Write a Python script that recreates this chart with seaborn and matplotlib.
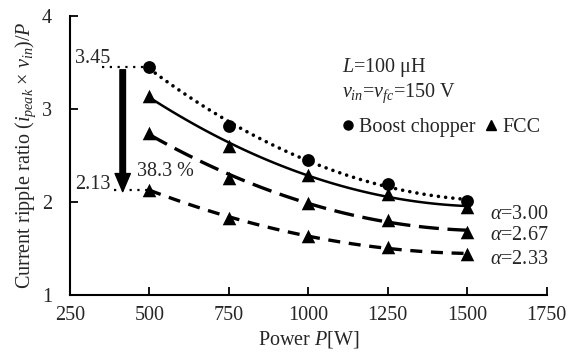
import matplotlib
matplotlib.use("Agg")
import matplotlib.pyplot as plt
import seaborn as sns
import pandas as pd
from matplotlib.lines import Line2D

power = [500, 750, 1000, 1250, 1500]
boost = [3.45, 2.82, 2.45, 2.19, 2.01]
fcc_300 = [3.14, 2.60, 2.29, 2.08, 1.94]
fcc_267 = [2.74, 2.26, 1.99, 1.81, 1.68]
fcc_233 = [2.13, 1.83, 1.63, 1.51, 1.44]
alpha_labels = [r"$\alpha$=3.00", r"$\alpha$=2.67", r"$\alpha$=2.33"]
xticks = [250, 500, 750, 1000, 1250, 1500, 1750]
yticks = [1, 2, 3, 4]

sns.set_theme(style="ticks")
plt.rcParams["font.family"] = ["Liberation Serif", "DejaVu Serif"]
plt.rcParams["mathtext.fontset"] = "custom"
plt.rcParams["mathtext.rm"] = "Liberation Serif"
plt.rcParams["mathtext.it"] = "Liberation Serif:italic"
plt.rcParams["mathtext.bf"] = "Liberation Serif:bold"
FS = 14.5

fig = plt.figure(figsize=(5.78, 3.6), dpi=100)
ax = fig.add_axes([0.121, 0.181, 0.825, 0.775])

series = [
    ("Boost chopper", boost, "o", dict(ls=(0, (0.01, 2.0)), lw=2.6, dash_capstyle="round")),
    ("α=3.00", fcc_300, "^", dict(ls="-", lw=1.8)),
    ("α=2.67", fcc_267, "^", dict(ls=(0, (6.0, 2.6)), lw=2.4)),
    ("α=2.33", fcc_233, "^", dict(ls=(0, (3.6, 2.6)), lw=2.4)),
]
for name, vals, mk, lkw in series:
    df = pd.DataFrame({"P": power, "R": vals})
    sns.regplot(data=df, x="P", y="R", order=2, ci=None, scatter=False,
                truncate=True, color="black", line_kws=lkw, ax=ax)
    sns.scatterplot(data=df, x="P", y="R", marker=mk, s=85 if mk == "o" else 95,
                    color="black", edgecolor="black", linewidth=0, ax=ax, zorder=5)

# reference lines and arrow
ax.plot([352, 500], [boost[0], boost[0]], color="black", lw=1.6, ls=(0, (1, 2.5)))
ax.plot([388, 500], [fcc_233[0], fcc_233[0]], color="black", lw=1.6, ls=(0, (1, 2.5)))
ax.text(378, 3.54, f"{boost[0]:.2f}", ha="right", va="center", fontsize=FS)
ax.text(378, 2.19, f"{fcc_233[0]:.2f}", ha="right", va="center", fontsize=FS)
ax.annotate("", xy=(416, 2.11), xytext=(416, 3.42),
            arrowprops=dict(width=4, headwidth=11, headlength=13, color="black", shrink=0))
ax.text(462, 2.33, "38.3 %", ha="left", va="center", fontsize=FS)

ax.text(1105, 3.44, r"$L$=100 μH", ha="left", va="center", fontsize=FS)
ax.text(1105, 3.17, r"$v_{in}$=$v_{fc}$=150 V", ha="left", va="center", fontsize=FS)

for lab, y in zip(alpha_labels, [1.865, 1.64, 1.38]):
    ax.text(1571, y, lab, ha="left", va="center", fontsize=FS)

handles = [Line2D([], [], ls="none", marker="o", color="black", markersize=6.5),
           Line2D([], [], ls="none", marker="^", color="black", markersize=6.5)]
ax.legend(handles, ["Boost chopper", "FCC"], ncol=2, frameon=False, fontsize=FS,
          loc="center left", bbox_to_anchor=(0.573, 0.60), handlelength=0.5,
          handletextpad=0.3, columnspacing=0.5, borderpad=0, borderaxespad=0)

ax.set_xlim(250, 1750)
ax.set_ylim(1, 4)
ax.set_xticks(xticks)
ax.set_yticks(yticks)
ax.tick_params(direction="in", length=6, width=1.3, labelsize=FS, color="black")
ax.tick_params(axis="y", pad=13)
ax.tick_params(axis="x", pad=8)
for s in ["left", "bottom"]:
    ax.spines[s].set_linewidth(1.5)
    ax.spines[s].set_color("black")
sns.despine(ax=ax)
ax.set_xlabel(r"Power $P$[W]", fontsize=FS, labelpad=3)
ax.set_ylabel(r"Current ripple ratio ($i_{peak}$ × $v_{in}$)/$P$", fontsize=FS, labelpad=3)

fig.savefig("out.png", dpi=100)
